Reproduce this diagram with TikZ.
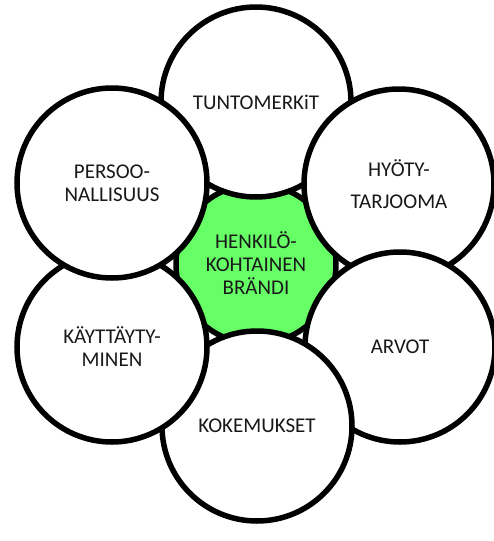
\documentclass[tikz,border=0pt]{standalone}
\usepackage{fontspec}
\setmainfont{Carlito}
\begin{document}
\begin{tikzpicture}[x=1pt,y=-1pt,
  txt/.style={font=\fontsize{21}{23}\selectfont, text=black!90},
  sat/.style={circle, draw=black, fill=white, line width=5.5pt, minimum size=190pt, inner sep=0pt, align=center, txt},
  hub/.style={circle, draw=black, fill=brandgreen, line width=5.5pt, minimum size=160pt, inner sep=0pt}]
\definecolor{brandgreen}{RGB}{102,255,102}
\useasboundingbox (0,0) rectangle (493,541);
\node[hub] (c) at (256,264) {};
\node[sat] (t) at (256,102) {TUNTOMERKiT};
\node[sat] (h) at (399,184) {HYÖTY-\\[9pt]TARJOOMA};
\node[sat] (a) at (400,347) {ARVOT};
\node[sat] (k) at (257,426) {KOKEMUKSET};
\node[sat] (kay) at (112,347) {KÄYTTÄYTY-\\MINEN};
\node[sat] (p) at (112,183) {PERSOO-\\NALLISUUS};
\node[align=center, txt] (ct) at (256,263) {HENKILÖ-\\KOHTAINEN\\BRÄNDI};
\end{tikzpicture}
\end{document}
